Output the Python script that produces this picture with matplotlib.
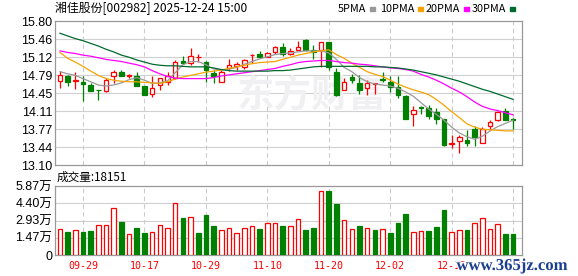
import numpy as np
import pandas as pd
import matplotlib
matplotlib.use("Agg")
import matplotlib.pyplot as plt
import matplotlib.patheffects as pe

plt.rcParams['font.family'] = ['Noto Sans CJK SC', 'DejaVu Sans']

# ---- data ----
dates = pd.bdate_range('2025-09-24', '2025-12-24')
dates = dates[(dates < '2025-10-01') | (dates > '2025-10-08')]
date_labels = [d.strftime('%m-%d') for d in dates]

opens = [14.68, 14.77, 14.67, 14.66, 14.60, 14.51, 14.49, 14.76, 14.84, 14.765,
         14.77, 14.575, 14.43, 14.60, 14.66, 14.74, 15.05, 15.01, 15.125, 15.04,
         14.83, 14.66, 14.91, 14.96, 14.94, 15.16, 15.19, 15.13, 15.21, 15.31,
         15.175, 15.26, 15.44, 15.25, 15.26, 15.40, 14.84, 14.50, 14.75, 14.64,
         14.55, 14.625, 14.71, 14.65, 14.56, 14.39, 14.06, 14.185, 14.17, 14.09,
         13.97, 13.50, 13.55, 13.57, 13.78, 13.51, 13.84, 13.94, 14.11, 13.955]
highs = [14.86, 14.78, 14.84, 14.76, 14.64, 14.51, 14.74, 14.88, 14.88, 14.80,
         14.84, 14.59, 14.77, 14.74, 14.84, 15.06, 15.15, 15.29, 15.19, 15.05,
         14.89, 14.89, 15.08, 15.03, 15.08, 15.18, 15.24, 15.22, 15.33, 15.39,
         15.30, 15.42, 15.46, 15.35, 15.40, 15.40, 14.92, 14.74, 14.80, 14.79,
         14.70, 14.64, 14.84, 14.76, 14.77, 14.42, 14.21, 14.21, 14.22, 14.17,
         13.97, 13.66, 13.66, 13.76, 13.84, 13.82, 13.94, 14.11, 14.16, 13.99]
lows = [14.55, 14.59, 14.52, 14.30, 14.49, 14.31, 14.46, 14.64, 14.76, 14.725,
        14.59, 14.42, 14.38, 14.51, 14.60, 14.72, 15.01, 14.97, 15.04, 14.66,
        14.63, 14.66, 14.87, 14.88, 14.90, 15.01, 15.11, 15.12, 15.18, 15.15,
        15.16, 15.25, 15.24, 15.09, 14.94, 14.89, 14.39, 14.50, 14.64, 14.43,
        14.41, 14.43, 14.65, 14.475, 14.35, 13.96, 13.83, 14.06, 13.97, 13.86,
        13.46, 13.425, 13.33, 13.46, 13.46, 13.51, 13.76, 13.93, 13.94, 13.77]
closes = [14.78, 14.66, 14.69, 14.61, 14.49, 14.50, 14.69, 14.84, 14.775, 14.79,
          14.59, 14.42, 14.55, 14.725, 14.775, 15.04, 15.02, 15.14, 15.13, 14.89,
          14.76, 14.84, 14.97, 14.99, 15.06, 15.17, 15.13, 15.20, 15.32, 15.18,
          15.23, 15.31, 15.26, 15.21, 15.40, 14.94, 14.41, 14.66, 14.69, 14.51,
          14.64, 14.63, 14.69, 14.57, 14.41, 13.97, 14.13, 14.17, 14.02, 13.97,
          13.47, 13.52, 13.62, 13.52, 13.63, 13.78, 13.91, 14.09, 13.945, 13.94]
volumes = [21860, 19570, 21000, 19570, 20400, 25250, 25250, 39700, 28070, 17870,
           22970, 19000, 19570, 25250, 22700, 43960, 31480, 32050, 19000, 34300,
           24670, 21270, 22970, 18720, 22970, 24670, 22120, 27220, 27220, 24670,
           24670, 30630, 21270, 22970, 54450, 54700, 43650, 29780, 22120, 24670,
           22970, 21270, 22120, 19000, 27500, 35150, 19570, 20400, 20400, 23820,
           38560, 19570, 21270, 21270, 27220, 31480, 22120, 26380, 18151, 18151]

ma5 = [14.85, 14.81, 14.78, 14.72, 14.66, 14.60, 14.58, 14.60, 14.64, 14.70,
       14.74, 14.69, 14.63, 14.64, 14.68, 14.83, 14.98, 15.04, 15.04, 14.98,
       14.90, 14.88, 14.90, 14.93, 14.99, 15.04, 15.09, 15.13, 15.17, 15.19,
       15.20, 15.22, 15.24, 15.24, 15.24, 15.20, 15.08, 14.93, 14.85, 14.74,
       14.66, 14.62, 14.60, 14.58, 14.54, 14.47, 14.39, 14.27, 14.15, 14.05,
       13.94, 13.81, 13.70, 13.63, 13.58, 13.64, 13.74, 13.82, 13.88, 13.94]
ma10 = [15.21, 15.10, 15.03, 14.95, 14.86, 14.78, 14.72, 14.69, 14.67, 14.66,
        14.66, 14.65, 14.64, 14.63, 14.66, 14.71, 14.75, 14.78, 14.81, 14.84,
        14.86, 14.88, 14.91, 14.94, 14.97, 15.00, 15.02, 15.03, 15.04, 15.08,
        15.12, 15.16, 15.19, 15.22, 15.24, 15.26, 15.17, 15.10, 15.01, 14.93,
        14.85, 14.80, 14.76, 14.69, 14.62, 14.56, 14.51, 14.47, 14.42, 14.33,
        14.22, 14.10, 13.99, 13.87, 13.81, 13.77, 13.76, 13.75, 13.74, 13.74]
ma20 = [15.24, 15.21, 15.19, 15.16, 15.14, 15.11, 15.08, 15.06, 15.04, 15.01,
        14.98, 14.94, 14.87, 14.81, 14.76, 14.73, 14.72, 14.72, 14.72, 14.72,
        14.74, 14.77, 14.79, 14.81, 14.83, 14.85, 14.87, 14.89, 14.91, 14.95,
        14.98, 15.02, 15.04, 15.05, 15.06, 15.06, 15.04, 15.02, 15.01, 14.99,
        14.98, 14.96, 14.94, 14.92, 14.91, 14.89, 14.86, 14.80, 14.75, 14.69,
        14.62, 14.54, 14.47, 14.38, 14.28, 14.20, 14.15, 14.12, 14.08, 14.04]
ma30 = [15.57, 15.52, 15.47, 15.43, 15.38, 15.33, 15.27, 15.22, 15.16, 15.12,
        15.07, 15.03, 14.99, 14.97, 14.96, 14.96, 14.95, 14.94, 14.94, 14.94,
        14.92, 14.89, 14.87, 14.86, 14.86, 14.86, 14.86, 14.86, 14.87, 14.87,
        14.88, 14.90, 14.92, 14.94, 14.95, 14.95, 14.95, 14.95, 14.95, 14.95,
        14.95, 14.94, 14.94, 14.93, 14.92, 14.90, 14.88, 14.85, 14.82, 14.79,
        14.75, 14.71, 14.67, 14.62, 14.57, 14.52, 14.48, 14.43, 14.38, 14.33]

price_ticks = [13.10, 13.4375, 13.775, 14.1125, 14.45, 14.7875, 15.125, 15.4625, 15.80]
price_labels = ['13.10', '13.44', '13.77', '14.11', '14.45', '14.79', '15.12', '15.46', '15.80']
vol_ticks = [0, 14675, 29350, 44025, 58700]
vol_labels = ['0', '1.47万', '2.93万', '4.40万', '5.87万']

title = '湘佳股份[002982] 2025-12-24 15:00'
ma_names = ['5PMA', '10PMA', '20PMA', '30PMA']
ma_colors = ['#999999', '#F5A300', '#FF00FF', '#006B2E']

RED = '#FF0000'
GREEN = '#008000'

o = np.array(opens); h = np.array(highs); l = np.array(lows); c = np.array(closes)
x = np.arange(len(c))
up = c >= o
prev = np.concatenate([[o[0]], c[:-1]])
vol_up = c >= prev

fig = plt.figure(figsize=(5.78, 2.76), dpi=100)
W, H = 578, 276
ax = fig.add_axes([55 / W, 1 - 165 / H, 467 / W, 144 / H])
axv = fig.add_axes([55 / W, 1 - 255 / H, 467 / W, 69 / H])

xlim = (-0.65, 60.16)
tick_idx = x[3::8]

for a, yt in ((ax, price_ticks), (axv, vol_ticks)):
    a.set_xlim(*xlim)
    for y in yt[1:-1]:
        a.axhline(y, color='#d0d0d0', lw=0.8, zorder=0)
    for t in tick_idx:
        a.axvline(t, color='#cccccc', lw=0.8, ls=(0, (4, 3)), zorder=0)
    for s in a.spines.values():
        s.set_color('#999999')
        s.set_linewidth(0.9)

# watermark
ax.text(0.55, 0.48, '东方财富', transform=ax.transAxes, ha='center', va='center',
        fontsize=27, fontweight='bold', color='#f0f0f2', zorder=0.5)

# candles
body_w = 0.6
ax.vlines(x, l, h, colors=np.where(up, RED, GREEN), lw=0.9, zorder=2)
bottoms = np.minimum(o, c)
heights = np.maximum(np.abs(c - o), 0.004)
ax.bar(x[up], heights[up], body_w, bottom=bottoms[up], facecolor='white',
       edgecolor=RED, linewidth=0.9, zorder=3)
ax.bar(x[~up], heights[~up], body_w, bottom=bottoms[~up], facecolor=GREEN,
       edgecolor=GREEN, linewidth=0.9, zorder=3)

for vals, col in zip([ma5, ma10, ma20, ma30], ma_colors):
    ax.plot(x, vals, color=col, lw=0.9, zorder=4)

ax.set_ylim(price_ticks[0], price_ticks[-1])
ax.set_yticks(price_ticks)
ax.set_yticklabels(price_labels, family=['Liberation Sans', 'Noto Sans CJK SC'], fontsize=9)
ax.set_xticks([])
ax.tick_params(axis='y', length=0, pad=2)

# volume
v = np.array(volumes)
axv.bar(x[vol_up], v[vol_up], body_w, facecolor='white', edgecolor=RED, linewidth=0.9, zorder=3)
axv.bar(x[~vol_up], v[~vol_up], body_w, facecolor=GREEN, edgecolor=GREEN, linewidth=0.9, zorder=3)
axv.set_ylim(vol_ticks[0], vol_ticks[-1])
axv.set_yticks(vol_ticks)
axv.set_yticklabels(vol_labels, family=['Liberation Sans', 'Noto Sans CJK SC'], fontsize=9)
axv.set_xticks(tick_idx)
axv.set_xticklabels([date_labels[i] for i in tick_idx], family='DejaVu Sans Mono',
                    fontsize=7.2, color=RED)
axv.tick_params(length=0, pad=2)
axv.tick_params(axis='x', pad=4)

# header texts
fig.text(55 / W, 1 - 9 / H, title, fontsize=8.6, va='center', ha='left')
fig.text(57 / W, 1 - 177 / H, '成交量:' + str(volumes[-1]), fontsize=8.4, va='center', ha='left')

leg_x = [338, 380, 426, 472]
for name, col, lx in zip(ma_names, ma_colors, leg_x):
    t = fig.text(lx / W, 1 - 9 / H, name, fontsize=7.8, va='center', ha='left')
    fig.canvas.draw()
    bb = t.get_window_extent()
    fig.patches.append(plt.Rectangle(((bb.x1 + 4) / W, (H - 11) / H), 5 / W, 4 / H,
                                     transform=fig.transFigure, color=col, figure=fig))

fig.text(512 / W, 1 - 266 / H, 'www.365jz.com', fontsize=12, ha='center', va='center',
         family='Liberation Serif', fontweight='bold', color='#1d3f8f',
         path_effects=[pe.withStroke(linewidth=2, foreground='white')])

fig.savefig('out.png', dpi=100)
